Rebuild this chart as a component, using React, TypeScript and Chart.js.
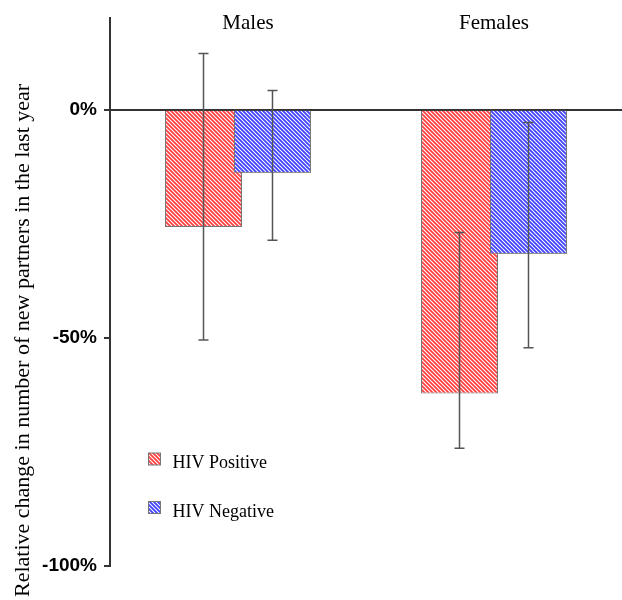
import React, { useEffect, useRef } from "react";
import { Chart, registerables } from "chart.js";

Chart.register(...registerables);

const categories = ["Males", "Females"];
const seriesNames = ["HIV Positive", "HIV Negative"];
const hivPositive = [-25.7, -62.2];
const hivNegative = [-13.8, -31.6];
const hivPositiveHigh = [12.3, -26.9];
const hivPositiveLow = [-50.5, -74.2];
const hivNegativeHigh = [4.2, -2.8];
const hivNegativeLow = [-28.6, -52.2];
const yTickValues = [-100, -50, 0];
const yTickLabels = ["-100%", "-50%", "0%"];
const yTitle = "Relative change in number of new partners in the last year";

const SERIF = "'Liberation Serif', 'Times New Roman', serif";
const SANS = "'Liberation Sans', Arial, Helvetica, sans-serif";

function makePattern(stripe: string): CanvasPattern | string {
  const s = 4;
  const c = document.createElement("canvas");
  c.width = s;
  c.height = s;
  const g = c.getContext("2d");
  if (!g) return stripe;
  g.fillStyle = "#ffffff";
  g.fillRect(0, 0, s, s);
  g.strokeStyle = stripe;
  g.lineWidth = 1.8;
  g.beginPath();
  g.moveTo(-1, -1);
  g.lineTo(s + 1, s + 1);
  g.moveTo(-1, s - 1);
  g.lineTo(1, s + 1);
  g.moveTo(s - 1, -1);
  g.lineTo(s + 1, 1);
  g.stroke();
  const p = g.createPattern(c, "repeat");
  return p || stripe;
}

export default function App() {
  const ref = useRef<HTMLCanvasElement | null>(null);

  useEffect(() => {
    document.body.style.margin = "0";
    const canvas = ref.current;
    if (!canvas) return;
    const redPat = makePattern("#ff4040");
    const bluePat = makePattern("#4040ff");
    const highs = [hivPositiveHigh, hivNegativeHigh];
    const lows = [hivPositiveLow, hivNegativeLow];
    const pats = [redPat, bluePat];

    const overlay = {
      id: "overlay",
      afterDatasetsDraw(chart: any) {
        const ctx = chart.ctx;
        const y = chart.scales.y;
        // redraw the second series so it sits on top of the first where they overlap
        const area = chart.chartArea;
        ctx.save();
        ctx.beginPath();
        ctx.rect(area.left, area.top, area.right - area.left, area.bottom - area.top);
        ctx.clip();
        chart.getDatasetMeta(1).controller.draw();
        ctx.restore();

        ctx.save();
        ctx.strokeStyle = "#555";
        ctx.lineWidth = 1.5;
        for (let i = 0; i < 2; i++) {
          const meta = chart.getDatasetMeta(i);
          meta.data.forEach((el: any, j: number) => {
            const x = el.x;
            const yt = y.getPixelForValue(highs[i][j]);
            const yb = y.getPixelForValue(lows[i][j]);
            ctx.beginPath();
            ctx.moveTo(x, yt);
            ctx.lineTo(x, yb);
            ctx.moveTo(x - 5, yt);
            ctx.lineTo(x + 5, yt);
            ctx.moveTo(x - 5, yb);
            ctx.lineTo(x + 5, yb);
            ctx.stroke();
          });
        }
        ctx.restore();
      },
      afterDraw(chart: any) {
        const ctx = chart.ctx;
        const xs = chart.scales.x;
        ctx.save();
        ctx.fillStyle = "#000";
        ctx.font = "21px " + SERIF;
        ctx.textAlign = "center";
        ctx.textBaseline = "alphabetic";
        categories.forEach((c, j) => {
          ctx.fillText(c, xs.getPixelForValue(j) + (j === 0 ? 10 : 0), 28.5);
        });
        // legend
        ctx.font = "18px " + SERIF;
        ctx.textAlign = "left";
        const ly = [453, 501.5];
        seriesNames.forEach((n, i) => {
          ctx.fillStyle = pats[i];
          ctx.fillRect(148.5, ly[i], 12, 12);
          ctx.strokeStyle = "#777";
          ctx.lineWidth = 1;
          ctx.strokeRect(148.5, ly[i], 12, 12);
          ctx.fillStyle = "#000";
          ctx.fillText(n, 172.5, ly[i] + 15);
        });
        // y title
        ctx.save();
        ctx.translate(29, 597);
        ctx.rotate(-Math.PI / 2);
        ctx.font = "22px " + SERIF;
        ctx.textAlign = "left";
        ctx.fillText(yTitle, 0, 0);
        ctx.restore();
        ctx.restore();
      },
    };

    const chart = new Chart(canvas, {
      type: "bar",
      data: {
        labels: categories,
        datasets: [
          {
            label: seriesNames[0],
            data: hivPositive,
            backgroundColor: redPat as any,
            borderColor: "#777",
            borderWidth: 1,
            categoryPercentage: 0.539,
            barPercentage: 1.116,
          },
          {
            label: seriesNames[1],
            data: hivNegative,
            backgroundColor: bluePat as any,
            borderColor: "#777",
            borderWidth: 1,
            categoryPercentage: 0.539,
            barPercentage: 1.116,
          },
        ],
      },
      options: {
        responsive: false,
        maintainAspectRatio: false,
        animation: false,
        layout: { padding: { top: 18, bottom: 34, left: 0, right: 0 } },
        plugins: {
          legend: { display: false },
          tooltip: { enabled: false },
          title: { display: false },
        },
        scales: {
          x: { display: false },
          y: {
            min: -100,
            max: 20,
            afterBuildTicks(axis: any) {
              axis.ticks = yTickValues.map((v) => ({ value: v }));
            },
            afterFit(axis: any) {
              axis.width = 110;
            },
            ticks: {
              padding: 7,
              color: "#000",
              font: { family: SANS, size: 19, weight: "bold" },
              callback: (v: any) => {
                const k = yTickValues.indexOf(Number(v));
                return k >= 0 ? yTickLabels[k] : "";
              },
            },
            grid: {
              drawOnChartArea: true,
              color: (c: any) => (c.tick && c.tick.value === 0 ? "#333" : "rgba(0,0,0,0)"),
              lineWidth: 2,
              tickLength: 6,
              tickColor: "#333",
              tickWidth: 2,
            },
            border: { display: true, color: "#333", width: 2 },
          },
        },
      },
      plugins: [overlay],
    });
    return () => chart.destroy();
  }, []);

  return (
    <div style={{ width: 622, height: 600, position: "relative" }}>
      <canvas ref={ref} width={622} height={600} style={{ width: 622, height: 600, display: "block" }} />
    </div>
  );
}
